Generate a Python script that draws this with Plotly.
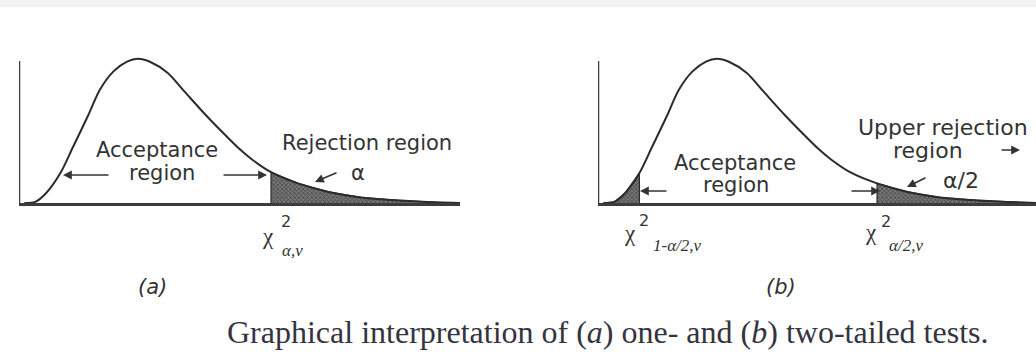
import plotly.graph_objects as go

W, H = 1036, 352

# ---- data (chi-square density sketch) ----
chi_x = [0.3, 0.9, 1.5, 2.3, 3.0, 3.8, 4.5, 5.25, 6.0, 6.6, 7.3, 8.25, 9.2,
         10.4, 11.5, 12.3, 13.0, 14.0, 15.5, 17.2, 19.0, 21.0, 23.0, 24.5]
density = [0.0, 0.0008, 0.007, 0.0214, 0.040, 0.0614, 0.081, 0.094, 0.101,
           0.103, 0.1007, 0.093, 0.0795, 0.0625, 0.048, 0.038, 0.0305, 0.022,
           0.014, 0.0079, 0.0040, 0.0019, 0.0006, 0.0]
crit_a = 14.0           # chi^2_{alpha,nu}
crit_b_lower = 2.3      # chi^2_{1-alpha/2,nu}
crit_b_upper = 15.5     # chi^2_{alpha/2,nu}
axis_top = 0.1014       # height of drawn vertical axis

INK = "#2b2b2b"
SHADE_FG = "#1a1a1a"
SHADE_BG = "#767676"


def px(x, y):
    return x / W, 1 - y / H


fig = go.Figure()


def tail_region(c):
    xs = [c] + [x for x in chi_x if x >= c]
    ys = [0.0] + [d for x, d in zip(chi_x, density) if x >= c]
    return xs, ys


def head_region(c):
    xs = [x for x in chi_x if x <= c] + [c]
    ys = [d for x, d in zip(chi_x, density) if x <= c] + [0.0]
    return xs, ys


shade_style = dict(mode="lines", fill="toself", line=dict(color=INK, width=1.2),
                   fillcolor=SHADE_BG,
                   fillpattern=dict(shape="x", fgcolor=SHADE_FG, bgcolor=SHADE_BG,
                                    size=3, solidity=0.45),
                   hoverinfo="skip", showlegend=False)
curve_style = dict(mode="lines",
                   line=dict(color=INK, width=2, shape="spline", smoothing=0.8),
                   hoverinfo="skip", showlegend=False)

# panel (a)
xs, ys = tail_region(crit_a)
fig.add_trace(go.Scatter(x=xs, y=ys, xaxis="x", yaxis="y", **shade_style))
fig.add_trace(go.Scatter(x=chi_x, y=density, xaxis="x", yaxis="y", **curve_style))
# panel (b)
xs, ys = head_region(crit_b_lower)
fig.add_trace(go.Scatter(x=xs, y=ys, xaxis="x2", yaxis="y2", **shade_style))
xs, ys = tail_region(crit_b_upper)
fig.add_trace(go.Scatter(x=xs, y=ys, xaxis="x2", yaxis="y2", **shade_style))
fig.add_trace(go.Scatter(x=chi_x, y=density, xaxis="x2", yaxis="y2", **curve_style))

ydom = [1 - 203 / H, 1 - 49 / H]
xax = dict(showline=True, linecolor="#3c3c3c", linewidth=2.5, showgrid=False,
           zeroline=False, showticklabels=False, ticks="", fixedrange=True)
yax = dict(visible=False, range=[0, 0.11], domain=ydom, fixedrange=True)

fig.update_layout(
    width=W, height=H, margin=dict(l=0, r=0, t=0, b=0),
    paper_bgcolor="white", plot_bgcolor="rgba(0,0,0,0)",
    xaxis=dict(xax, domain=[19 / W, 460 / W], range=[0, 24.5], anchor="y"),
    yaxis=dict(yax, anchor="x"),
    xaxis2=dict(xax, domain=[598 / W, 1.0], range=[0, 24.33], anchor="y2"),
    yaxis2=dict(yax, anchor="x2"),
    showlegend=False,
)

# vertical axes + top strip
fig.add_shape(type="line", xref="x", yref="y", x0=0, x1=0, y0=0, y1=axis_top,
              line=dict(color="#3c3c3c", width=2.5))
fig.add_shape(type="line", xref="x2", yref="y2", x0=0, x1=0, y0=0, y1=axis_top,
              line=dict(color="#3c3c3c", width=2.5))
fig.add_shape(type="rect", xref="paper", yref="paper", x0=0, x1=1,
              y0=1 - 7 / H, y1=1, line=dict(width=0), fillcolor="#f3f3f3", layer="below")

SANS = "DejaVu Sans"
SERIF = "Liberation Serif"


def text(x, y, s, size=21, family=SANS, color="#333333", xanchor="center"):
    X, Y = px(x, y)
    fig.add_annotation(x=X, y=Y, xref="paper", yref="paper", text=s, showarrow=False,
                       font=dict(family=family, size=size, color=color),
                       xanchor=xanchor, yanchor="middle")


def arrow(hx, hy, ax, ay):
    X, Y = px(hx, hy)
    fig.add_annotation(x=X, y=Y, xref="paper", yref="paper", text="", showarrow=True,
                       ax=ax, ay=ay, axref="pixel", ayref="pixel",
                       arrowhead=2, arrowsize=1.1, arrowwidth=1.6, arrowcolor="#333333")


# panel (a) labels
text(157, 150, "Acceptance")
text(162, 173, "region")
text(367, 143, "Rejection region")
text(358, 173, "α")
arrow(63, 175, 47, 0)
arrow(267, 175, -45, 0)
arrow(315, 182, 23, -10)
text(268, 236, "χ", size=23, family=SERIF)
text(286, 221, "2", size=16, family=SANS)
text(292, 250, "<i>α,ν</i>", size=17, family=SERIF)
text(152, 287, "<i>(a)</i>", size=21)

# panel (b) labels
text(735, 163, "Acceptance")
text(736, 185, "region")
text(943, 127, "Upper rejection", size=22)
text(928, 150, "region", size=22)
arrow(1020, 150, -20, 0)
text(961, 180, "α/2", size=22)
arrow(640, 191, 28, 0)
arrow(880, 191, -30, 0)
arrow(907, 187, 20, -10)
text(630, 233, "χ", size=23, family=SERIF)
text(644, 220, "2", size=16, family=SANS)
text(677, 245, "<i>1-α/2,ν</i>", size=17, family=SERIF)
text(871, 232, "χ", size=23, family=SERIF)
text(886, 221, "2", size=16, family=SANS)
text(906, 245, "<i>α/2,ν</i>", size=17, family=SERIF)
text(781, 287, "<i>(b)</i>", size=21)

# caption
text(225, 332, "Graphical interpretation of (<i>a</i>) one- and (<i>b</i>) two-tailed tests.",
     size=32, family=SERIF, color="#34343f", xanchor="left")

fig.write_html("out.html",
               config={"displayModeBar": False, "staticPlot": True},
               post_script="document.body.style.margin='0';"
                           "document.body.style.overflow='hidden';")
